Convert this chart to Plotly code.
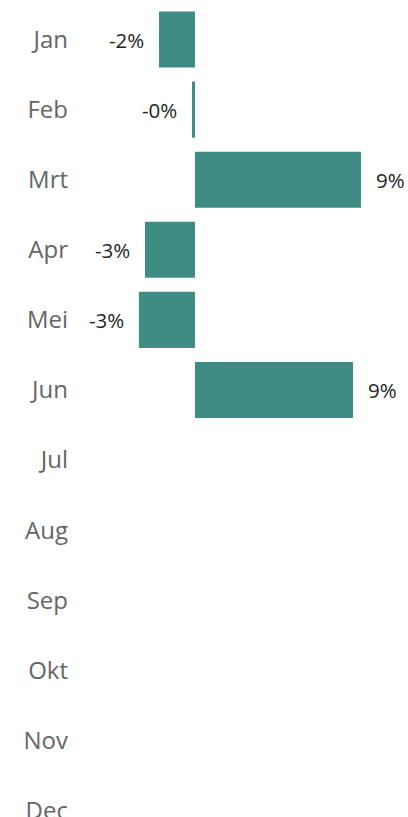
import plotly.graph_objects as go

months = ["Jan", "Feb", "Mrt", "Apr", "Mei", "Jun", "Jul", "Aug", "Sep", "Okt", "Nov", "Dec"]
values = [-1.95, -0.16, 9.0, -2.71, -3.04, 8.57]  # percent, Jan..Jun
labels = [f"{v:.0f}%" for v in values]

bar_color = "#3F8C85"
font_family = "Segoe UI, Open Sans, Noto Sans, sans-serif"

fig = go.Figure()
fig.add_trace(go.Bar(
    x=values,
    y=months[:len(values)],
    orientation="h",
    marker=dict(color=bar_color, line=dict(width=0)),
    hoverinfo="skip",
))

for m, v, t in zip(months, values, labels):
    fig.add_annotation(
        x=v, y=m, text=t, showarrow=False,
        xanchor="left" if v >= 0 else "right",
        xshift=13 if v >= 0 else -13,
        font=dict(family=font_family, size=20.5, color="#252423"),
    )

fig.update_layout(
    width=408, height=830,
    margin=dict(l=81, r=0, t=0, b=0),
    paper_bgcolor="white", plot_bgcolor="white",
    bargap=0.2,
    showlegend=False,
    xaxis=dict(range=[-6.18, 11.55], visible=False, fixedrange=True),
    yaxis=dict(
        type="category",
        categoryorder="array", categoryarray=months,
        range=[11.277, -0.5635],
        showgrid=False, zeroline=False, showline=False,
        ticks="", ticklabelstandoff=12, fixedrange=True,
        tickfont=dict(family=font_family, size=24, color="#666666"),
    ),
)

fig.write_html(
    "out.html",
    config={"displayModeBar": False, "staticPlot": True},
    post_script="document.body.style.margin='0';document.body.style.overflow='hidden';",
)
